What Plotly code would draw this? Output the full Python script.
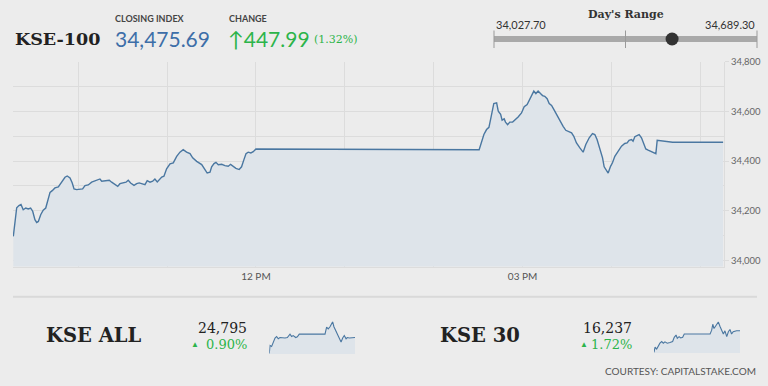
import plotly.graph_objects as go

W, H = 768, 386

# ---------------- data ----------------
index_name = "KSE-100"
closing_index = 34475.69
change_points = 447.99
change_pct = 1.32
day_low = 34027.70
day_high = 34689.30

# minutes after midnight
main_minutes = [
    556.2, 558.5, 560.0, 561.4, 562.9, 564.6, 566.3, 567.9, 569.3, 570.8,
    572.0, 573.1, 574.7, 576.4, 578.1, 579.4, 581.0, 582.5, 584.3, 586.6,
    588.8, 591.1, 592.6, 594.5, 596.0, 597.2, 599.0, 601.2, 603.0, 604.6,
    606.8, 609.1, 611.3, 612.9, 614.7, 615.9, 618.1, 621.0, 622.6, 624.8,
    626.7, 628.2, 630.4, 632.3, 633.8, 635.4, 637.7, 639.5, 641.2, 642.9,
    645.1, 646.6, 648.5, 650.3, 651.8, 653.4, 655.2, 656.4, 657.9, 659.7,
    662.0, 664.2, 666.5, 668.7, 670.9, 673.2, 675.5, 677.3, 680.0, 683.4,
    685.6, 687.1, 689.0, 690.1, 691.7, 693.0, 694.6, 696.9, 699.1, 701.3,
    702.9, 704.7, 706.5, 708.7, 710.3, 711.9, 713.3, 714.8, 716.6, 718.2,
    720.0, 870.7, 872.3, 873.9, 875.7, 877.3, 878.4, 879.8, 880.6, 882.5,
    883.6, 885.2, 886.2, 887.6, 888.5, 889.9, 891.4, 893.3, 895.3, 897.0,
    899.3, 901.1, 903.1, 904.9, 906.5, 907.6, 909.0, 910.5, 912.1, 913.5,
    915.0, 916.6, 918.0, 919.6, 921.1, 922.9, 925.2, 927.4, 929.2, 930.8,
    933.1, 934.6, 936.4, 938.7, 940.9, 942.7, 945.0, 947.2, 948.8, 950.3,
    952.2, 954.0, 955.1, 956.7, 957.8, 959.4, 960.7, 962.3, 964.5, 966.8,
    969.0, 970.6, 971.9, 973.6, 974.6, 975.8, 977.3, 978.7, 980.3, 981.9,
    983.2, 984.8, 986.4, 988.2, 990.0, 990.9, 994.9, 1001.3, 1035.4,
]
main_values = [
    34097, 34212, 34221, 34225, 34204, 34211, 34207, 34211, 34198, 34164,
    34153, 34157, 34184, 34202, 34211, 34238, 34274, 34281, 34292, 34296,
    34315, 34335, 34340, 34332, 34312, 34288, 34285, 34285, 34288, 34301,
    34304, 34315, 34319, 34323, 34328, 34319, 34320, 34323, 34315, 34305,
    34298, 34309, 34312, 34315, 34323, 34312, 34302, 34309, 34312, 34308,
    34305, 34321, 34315, 34319, 34328, 34316, 34328, 34336, 34339, 34369,
    34389, 34393, 34419, 34436, 34446, 34436, 34430, 34413, 34399, 34386,
    34366, 34352, 34355, 34377, 34390, 34395, 34385, 34387, 34382, 34379,
    34387, 34377, 34371, 34366, 34377, 34406, 34430, 34436, 34433, 34438,
    34449, 34446, 34473, 34507, 34527, 34536, 34567, 34601, 34632, 34635,
    34601, 34588, 34565, 34570, 34557, 34547, 34557, 34557, 34567, 34578,
    34594, 34619, 34628, 34648, 34672, 34682, 34672, 34682, 34672, 34664,
    34661, 34651, 34632, 34624, 34608, 34588, 34561, 34540, 34524, 34520,
    34514, 34500, 34473, 34453, 34436, 34467, 34494, 34511, 34507, 34487,
    34453, 34413, 34377, 34359, 34352, 34379, 34393, 34419, 34440, 34460,
    34471, 34473, 34484, 34487, 34480, 34498, 34503, 34507, 34494, 34473,
    34449, 34444, 34440, 34436, 34430, 34484, 34482, 34476, 34475.69,
]

x_tick_values = [720, 900]
x_tick_labels = ["12 PM", "03 PM"]
y_tick_values = [34000, 34200, 34400, 34600, 34800]

kse_all_name = "KSE ALL"
kse_all_last = "24,795"
kse_all_pct = "0.90%"
kse_all_minutes = [556, 560, 569, 578, 588, 597, 606, 616, 631, 644, 657, 672, 681, 690,
                   704, 713, 724, 868, 877, 886, 896, 911, 918, 930, 939, 948, 958, 967,
                   976, 986, 993, 1004, 1036]
kse_all_values = [24730, 24763, 24759, 24773, 24793, 24799, 24790, 24795, 24793, 24793,
                  24795, 24809, 24799, 24803, 24795, 24798, 24809, 24809, 24837, 24830,
                  24839, 24859, 24839, 24819, 24803, 24795, 24777, 24793, 24803, 24790,
                  24795, 24793, 24795]

kse30_name = "KSE 30"
kse30_last = "16,237"
kse30_pct = "1.72%"
kse30_minutes = [556, 562, 571, 580, 589, 599, 608, 617, 630, 645, 660, 669, 679, 686, 696,
                 705, 716, 725, 869, 878, 884, 891, 902, 915, 924, 934, 943, 952, 962, 971,
                 980, 989, 998, 1017, 1036]
kse30_values = [16171, 16187, 16181, 16191, 16199, 16204, 16199, 16203, 16199, 16201,
                16204, 16217, 16224, 16214, 16219, 16215, 16217, 16227, 16227, 16239,
                16257, 16244, 16254, 16264, 16251, 16239, 16227, 16237, 16219, 16234,
                16241, 16227, 16234, 16237, 16237]

# ---------------- style ----------------
BG = "#ececec"
LINE = "#4a77a1"
FILL = "#dee4ea"
GRID = "#dcdcdc"
GREEN = "#2cb44a"
SANS = "Lato, 'Open Sans', sans-serif"
SERIF = "'DejaVu Serif', 'Liberation Serif', serif"


def px(x):
    return x / W


def py(y):
    # pixel row (from top) -> paper coordinate, with a small empirical
    # correction for how the page is photographed
    return 1 - ((y - 5.5) / 0.9866) / H


fig = go.Figure()

fig.add_trace(go.Scatter(
    x=main_minutes, y=main_values, mode="lines",
    line=dict(color=LINE, width=1.4), fill="tozeroy", fillcolor=FILL,
    hoverinfo="skip", xaxis="x", yaxis="y"))

fig.add_trace(go.Scatter(
    x=kse_all_minutes, y=kse_all_values, mode="lines",
    line=dict(color=LINE, width=1.1), fill="tozeroy", fillcolor=FILL,
    hoverinfo="skip", xaxis="x2", yaxis="y2"))

fig.add_trace(go.Scatter(
    x=kse30_minutes, y=kse30_values, mode="lines",
    line=dict(color=LINE, width=1.1), fill="tozeroy", fillcolor=FILL,
    hoverinfo="skip", xaxis="x3", yaxis="y3"))

spark_axis = dict(visible=False, fixedrange=True)

fig.update_layout(
    width=W, height=H,
    margin=dict(l=0, r=0, t=0, b=0),
    paper_bgcolor=BG, plot_bgcolor=BG,
    showlegend=False,
    xaxis=dict(
        domain=[px(13), px(724)], range=[556, 1036],
        tickvals=x_tick_values, ticktext=x_tick_labels,
        showgrid=True, gridcolor=GRID, gridwidth=1,
        minor=dict(dtick=60, tick0=0, showgrid=True, gridcolor=GRID, gridwidth=1),
        showline=True, linecolor=GRID, linewidth=1,
        ticks="", tickfont=dict(family=SANS, size=10, color="#555"),
        zeroline=False, fixedrange=True, anchor="y",
    ),
    yaxis=dict(
        domain=[py(267), py(62)], range=[33975, 34801],
        side="right", tickvals=y_tick_values, tickformat=",.0f",
        showgrid=True, gridcolor=GRID, gridwidth=1,
        minor=dict(dtick=100, tick0=0, showgrid=True, gridcolor=GRID, gridwidth=1),
        showline=True, linecolor=GRID, linewidth=1,
        ticks="outside", ticklen=4, tickcolor=GRID,
        tickfont=dict(family=SANS, size=9.5, color="#666"),
        zeroline=False, fixedrange=True, anchor="x",
    ),
    xaxis2=dict(domain=[px(269.3), px(355)], range=[556, 1036], anchor="y2", **spark_axis),
    yaxis2=dict(domain=[py(354.3), py(321.7)], range=[24728, 24861], anchor="x2", **spark_axis),
    xaxis3=dict(domain=[px(654), px(740)], range=[556, 1036], anchor="y3", **spark_axis),
    yaxis3=dict(domain=[py(353.3), py(321.7)], range=[16169, 16266], anchor="x3", **spark_axis),
)

ann = []


def text(x, y, s, size, color, family=SANS, xanchor="left", bold=False):
    if bold:
        s = "<b>" + s + "</b>"
    ann.append(dict(x=px(x), y=py(y), xref="paper", yref="paper", text=s,
                    showarrow=False, xanchor=xanchor, yanchor="middle",
                    font=dict(size=size, color=color, family=family)))


# header
text(13, 39, index_name, 17.5, "#222", SERIF, bold=True)
text(113, 19, "CLOSING INDEX", 9, "#444", SANS, bold=True)
text(113, 39, f"{closing_index:,.2f}", 21, "#3d6ea8", SANS)
text(227, 19, "CHANGE", 9, "#444", SANS, bold=True)
text(226, 39, f"↑{change_points:,.2f}", 21, GREEN, SANS)
text(312, 40, f"({change_pct:.2f}%)", 11, GREEN, SERIF)

# day's range
bar_x0, bar_x1, bar_y = 494, 757, 39.5
text((bar_x0 + bar_x1) / 2, 15, "Day's Range", 11, "#333", SERIF, xanchor="center", bold=True)
text(bar_x0, 25, f"{day_low:,.2f}", 11, "#333", SANS)
text(bar_x1, 25, f"{day_high:,.2f}", 11, "#333", SANS, xanchor="right")

# bottom tickers
text(44, 336, kse_all_name, 19.5, "#222", SERIF, bold=True)
text(249, 328, kse_all_last, 14, "#222", SERIF, xanchor="right")
text(249, 345, kse_all_pct, 13, GREEN, SERIF, xanchor="right")
text(195, 344, "▲", 8, GREEN, SANS, xanchor="center")

text(438, 336, kse30_name, 19.5, "#222", SERIF, bold=True)
text(634, 328, kse30_last, 14, "#222", SERIF, xanchor="right")
text(634, 345, kse30_pct, 13, GREEN, SERIF, xanchor="right")
text(584, 344, "▲", 8, GREEN, SANS, xanchor="center")

text(758, 371, "COURTESY: CAPITALSTAKE.COM", 10, "#555", SANS, xanchor="right")

fig.update_layout(annotations=ann)

shapes = []
# slider bar
shapes.append(dict(type="line", xref="paper", yref="paper",
                   x0=px(bar_x0), x1=px(bar_x1), y0=py(bar_y), y1=py(bar_y),
                   line=dict(color="#a9a9a9", width=6)))
for tx in (bar_x0, (bar_x0 + bar_x1) / 2, bar_x1):
    shapes.append(dict(type="line", xref="paper", yref="paper",
                       x0=px(tx), x1=px(tx), y0=py(31), y1=py(48.5),
                       line=dict(color="#9a9a9a", width=1)))
frac = (closing_index - day_low) / (day_high - day_low)
dot_x = bar_x0 + frac * (bar_x1 - bar_x0)
r = 6.5
shapes.append(dict(type="circle", xref="paper", yref="paper",
                   x0=px(dot_x - r), x1=px(dot_x + r), y0=py(bar_y + r), y1=py(bar_y - r),
                   fillcolor="#333", line=dict(color="#333", width=0)))
# separator
shapes.append(dict(type="line", xref="paper", yref="paper",
                   x0=px(13), x1=px(757), y0=py(297), y1=py(297),
                   line=dict(color="#d9d9d9", width=2)))
fig.update_layout(shapes=shapes)

fig.write_html(
    "out.html",
    config={"displayModeBar": False},
    post_script="document.body.style.margin='0';document.body.style.overflow='hidden';"
                "document.documentElement.style.overflow='hidden';",
)
